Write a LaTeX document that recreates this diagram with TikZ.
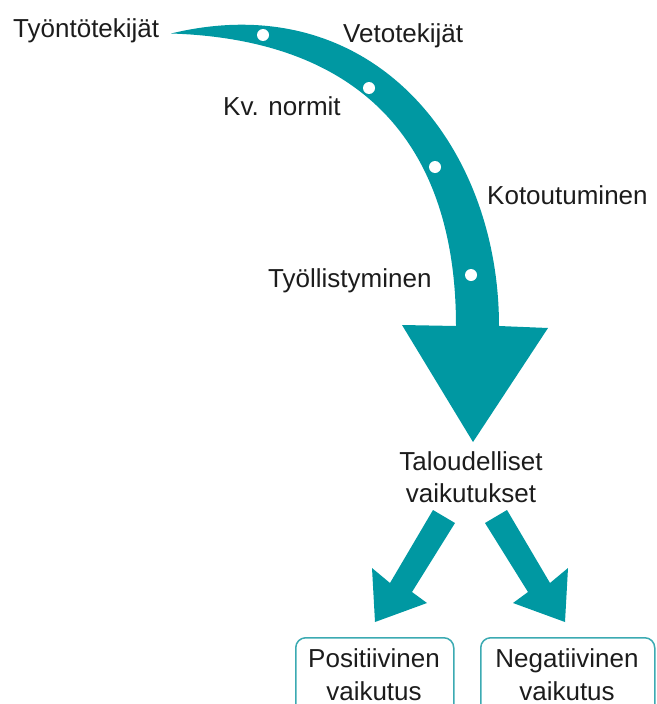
\documentclass[tikz,border=0pt]{standalone}
\usepackage{fontspec}
\setmainfont{Liberation Sans}
\definecolor{tealmain}{RGB}{0,152,162}
\definecolor{tealline}{RGB}{60,170,178}
\definecolor{txt}{RGB}{28,28,28}
\begin{document}
\begin{tikzpicture}[x=1pt,y=-1pt,
  lab/.style={font=\fontsize{26}{32}\selectfont, text=txt, inner sep=0pt},
  fatarrow/.style={fill=tealmain, draw=none},
  dotmark/.style={circle, fill=white, minimum size=12pt, inner sep=0pt},
  outcome/.style={draw=tealline, line width=1.5pt, rounded corners=10pt,
    minimum width=158pt, minimum height=80pt, anchor=north west, inner sep=0pt}]
\useasboundingbox (0,0) rectangle (656,704);
\clip (0,0) rectangle (656,704);
% big curved arrow
\fill[fatarrow] (171,33.5) .. controls (372,-15) and (499,145) .. (499,326)
  -- (548,328) -- (473,442) -- (402,325) -- (456,326)
  .. controls (456,155) and (372,40) .. (171,33.5) -- cycle;
% dots
\node[dotmark] (d1) at (263,35) {};
\node[dotmark] (d2) at (369,88) {};
\node[dotmark] (d3) at (435,167) {};
\node[dotmark] (d4) at (471,275) {};
% small arrows
\fill[fatarrow] (433,510) -- (455,523) -- (412,592) -- (427,603) -- (375,622)
  -- (372,568) -- (390,583) -- cycle;
\fill[fatarrow] (507,510) -- (485,523) -- (528,592) -- (513,603) -- (565,622)
  -- (568,568) -- (550,583) -- cycle;
% labels
\node[lab, anchor=base west] (push) at (13,37) {Työntötekijät};
\node[lab, anchor=base west] (pull) at (343,42) {Vetotekijät};
\node[lab, anchor=base west] (norms) at (223,115) {Kv. normit};
\node[lab, anchor=base west] (integ) at (487,204) {Kotoutuminen};
\node[lab, anchor=base west] (empl) at (268,287) {Työllistyminen};
\node[lab, anchor=base] (econA) at (471,470) {Taloudelliset};
\node[lab, anchor=base] (econB) at (471,502) {vaikutukset};
% outcome boxes
\node[outcome] (pos) at (295,637) {};
\node[outcome, minimum width=174pt] (neg) at (480,637) {};
\node[lab, anchor=base] (posA) at (374,667) {Positiivinen};
\node[lab, anchor=base] (posB) at (374,700) {vaikutus};
\node[lab, anchor=base] (negA) at (567,667) {Negatiivinen};
\node[lab, anchor=base] (negB) at (567,700) {vaikutus};
\end{tikzpicture}
\end{document}
